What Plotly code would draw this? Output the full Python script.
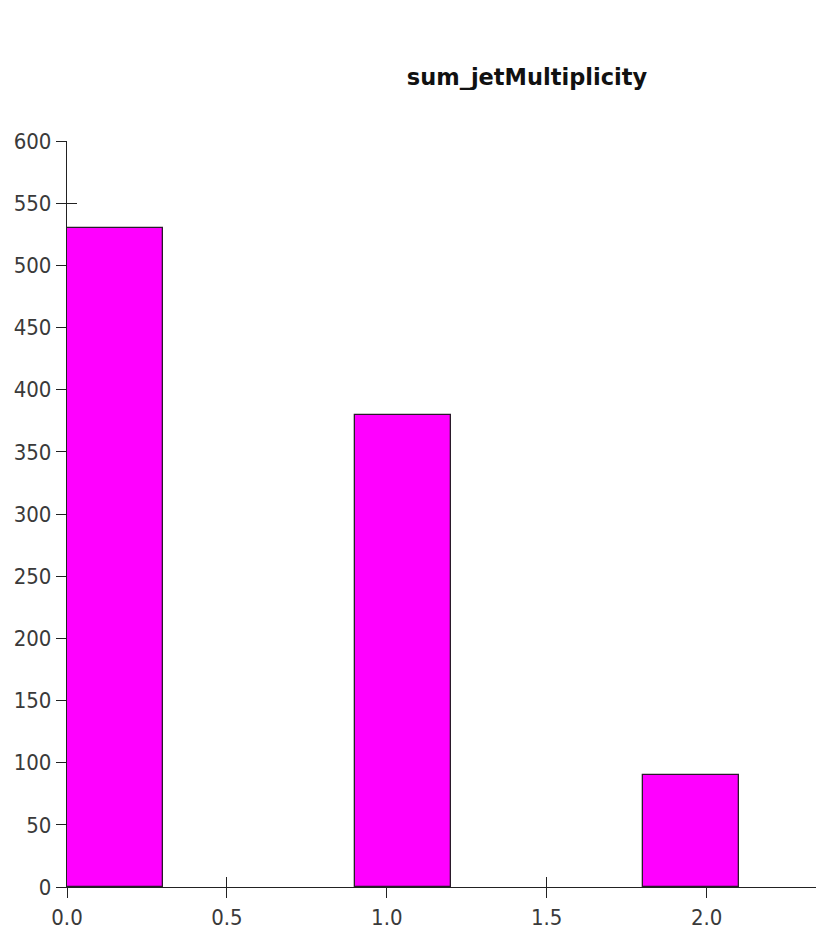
import plotly.graph_objects as go

# Histogram bins of the summed jet multiplicity
bin_left = [0.0, 0.9, 1.8]
bin_width = 0.3
counts = [530, 380, 90]

x_ticks = [0.0, 0.5, 1.0, 1.5, 2.0]
y_ticks = list(range(0, 601, 50))

centers = [b + bin_width / 2 for b in bin_left]

fig = go.Figure()
fig.add_trace(go.Bar(
    x=centers,
    y=counts,
    width=[bin_width] * len(counts),
    marker=dict(color="#FF00FF", line=dict(color="#2a1a2a", width=1.3)),
    showlegend=False,
))

tick_family = "DejaVu Sans Condensed, Open Sans, DejaVu Sans, sans-serif"
title_family = "DejaVu Sans, sans-serif"
axis_common = dict(
    showgrid=False,
    zeroline=False,
    showline=True,
    linecolor="#222222",
    linewidth=1.3,
    ticks="outside",
    ticklen=10,
    tickwidth=1.3,
    tickcolor="#222222",
    tickfont=dict(family=tick_family, size=22, color="#3a3a3a"),
)

x_range = [0, 2.342]
y_range = [0, 600]

fig.update_layout(
    width=816,
    height=930,
    margin=dict(l=67, r=0, t=141, b=43),
    paper_bgcolor="white",
    plot_bgcolor="white",
    bargap=0,
    title=dict(
        text="<b>sum_jetMultiplicity</b>",
        font=dict(family=title_family, size=22.5, color="#111111"),
        x=527 / 816, xanchor="center", xref="container",
        y=1 - 77 / 930, yanchor="middle", yref="container",
    ),
    xaxis=dict(axis_common, range=x_range, tickvals=x_ticks,
               tickformat=".1f", fixedrange=True),
    yaxis=dict(axis_common, range=y_range, tickvals=y_ticks,
               fixedrange=True),
    # companion axes carry the inner halves of the crossing tick marks
    xaxis2=dict(overlaying="x", range=x_range, tickvals=x_ticks,
                ticks="inside", ticklen=10, tickwidth=1.3, tickcolor="#222222",
                showticklabels=False, showgrid=False, zeroline=False,
                showline=False, side="bottom", anchor="y",
                layer="below traces"),
    yaxis2=dict(overlaying="y", range=y_range, tickvals=y_ticks,
                ticks="inside", ticklen=10, tickwidth=1.3, tickcolor="#222222",
                showticklabels=False, showgrid=False, zeroline=False,
                showline=False, side="left", anchor="x",
                layer="below traces"),
)

# invisible trace to activate the companion axes
fig.add_trace(go.Scatter(x=[None], y=[None], xaxis="x2", yaxis="y2",
                         showlegend=False, hoverinfo="skip"))

fig.write_html("out.html")
